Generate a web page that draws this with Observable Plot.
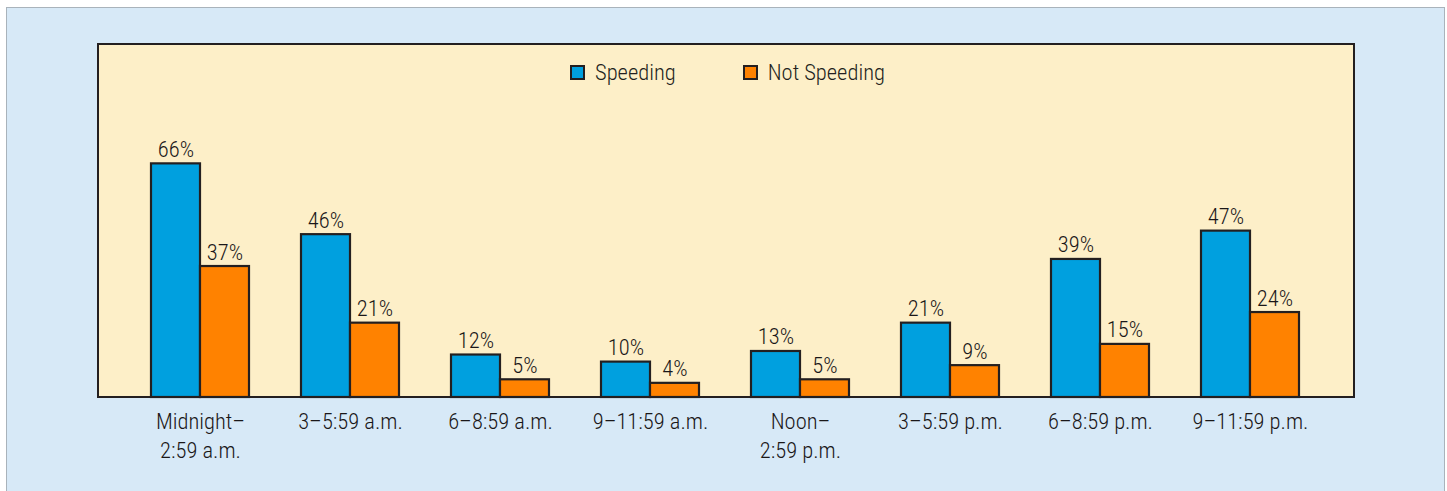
<!DOCTYPE html>
<html>
<head>
<meta charset="utf-8">
<script src="https://cdn.jsdelivr.net/npm/d3@7"></script>
<script src="https://cdn.jsdelivr.net/npm/@observablehq/plot@0.6"></script>
<style>
  html, body { margin: 0; padding: 0; background: #ffffff; overflow: hidden; }
  body { width: 1447px; height: 491px; position: relative; font-family: "Roboto Condensed", "Roboto", sans-serif; font-weight: 300; color: #231f20; }
  #panel { position: absolute; left: 6px; top: 7px; width: 1437px; height: 500px; background: #d7e9f7; border: 1px solid #a9b3bb; }
  #plotbox { position: absolute; left: 97px; top: 43px; width: 1254px; height: 351px; background: #fdefc8; border: 2.5px solid #231f20; }
  #chart { position: absolute; left: 0; top: 0; }
  #legend { position: absolute; top: 59px; left: 570px; display: flex; align-items: center; font-size: 22.5px; }
  .item { display: flex; align-items: center; }
  .sw { width: 11px; height: 11px; border: 2px solid #231f20; margin-right: 10px; }
</style>
</head>
<body>
<div id="panel"></div>
<div id="plotbox"></div>
<div id="chart"></div>
<div id="legend"></div>
<script>
const times = ["Midnight–\n2:59 a.m.", "3–5:59 a.m.", "6–8:59 a.m.", "9–11:59 a.m.", "Noon–\n2:59 p.m.", "3–5:59 p.m.", "6–8:59 p.m.", "9–11:59 p.m."];
const seriesNames = ["Speeding", "Not Speeding"];
const speeding = [66, 46, 12, 10, 13, 21, 39, 47];
const notSpeeding = [37, 21, 5, 4, 5, 9, 15, 24];
const colors = ["#00a0df", "#ff8200"];

const data = [];
times.forEach((t, i) => {
  data.push({time: t, series: seriesNames[0], value: speeding[i]});
  data.push({time: t, series: seriesNames[1], value: notSpeeding[i]});
});

const chart = Plot.plot({
  width: 1447,
  height: 491,
  marginLeft: 95,
  marginRight: 93,
  marginTop: 43,
  marginBottom: 94,
  style: { background: "transparent", fontFamily: "'Roboto Condensed', Roboto, sans-serif", fontWeight: 300, color: "#231f20" },
  fx: { domain: times, paddingInner: 0.35, paddingOuter: 0.36 },
  x: { domain: seriesNames, padding: 0, axis: null },
  y: { domain: [0, 100], axis: null },
  color: { domain: seriesNames, range: colors },
  marks: [
    Plot.barY(data, { fx: "time", x: "series", y: "value", fill: "series", stroke: "#231f20", strokeWidth: 2.2 }),
    Plot.text(data, { fx: "time", x: "series", y: "value", text: d => d.value + "%", dy: -7, lineAnchor: "bottom", fontSize: 22.5, fill: "#1a1718" }),
    Plot.axisFx({ anchor: "bottom", tickSize: 0, tickPadding: 11, fontSize: 22.5, lineHeight: 1.28, label: null, fill: "#1a1718" })
  ]
});
document.getElementById("chart").appendChild(chart);

const legend = document.getElementById("legend");
seriesNames.forEach((s, i) => {
  const item = document.createElement("div");
  item.className = "item";
  if (i === 0) item.style.marginRight = "67px";
  const sw = document.createElement("div");
  sw.className = "sw";
  sw.style.background = colors[i];
  const label = document.createElement("span");
  label.textContent = s;
  item.appendChild(sw);
  item.appendChild(label);
  legend.appendChild(item);
});
</script>
</body>
</html>
